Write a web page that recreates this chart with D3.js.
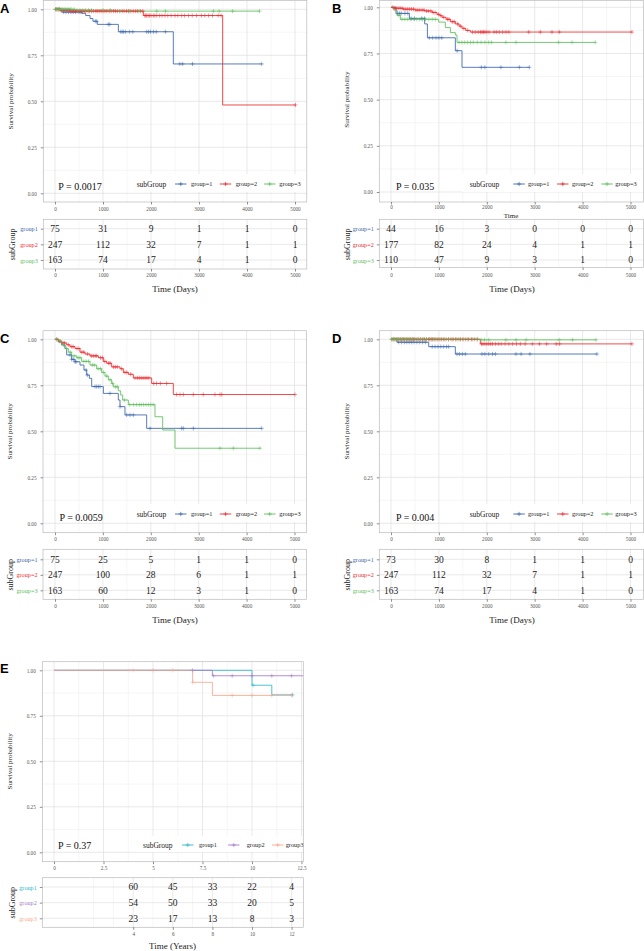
<!DOCTYPE html>
<html><head><meta charset="utf-8">
<script src="https://cdn.jsdelivr.net/npm/d3@7/dist/d3.min.js"></script>
<style>body{margin:0;background:#fff}</style>
</head><body>
<script>
// ---------------- DATA ----------------
const dayTicks = [0, 1000, 2000, 3000, 4000, 5000];
const dayMinor = [500, 1500, 2500, 3500, 4500];
const yearTicks = [0, 2.5, 5, 7.5, 10, 12.5];
const yearMinor = [1.25, 3.75, 6.25, 8.75, 11.25];
const yearTableTicks = [4, 6, 8, 10, 12];
const yearTableMinor = [2, 3, 5, 7, 9, 11];
const survTicks = [0, 0.25, 0.5, 0.75, 1];
const survMinor = [0.125, 0.375, 0.625, 0.875];
const survTickLabels = ["0.00", "0.25", "0.50", "0.75", "1.00"];

const legendLabelsEq = ["group=1", "group=2", "group=3"];
const legendLabelsPlain = ["group1", "group2", "group3"];
const pValues = ["P = 0.0017", "P = 0.035", "P = 0.0059", "P = 0.004", "P = 0.37"];

// Panel A  (time in days, [time, survival])
const A_g1 = [[0,1],[140,0.985],[560,0.978],[640,0.966],[730,0.95],[790,0.935],[880,0.918],[1320,0.878],[2465,0.703],[4306,0.703]];
const A_g2 = [[0,1],[120,0.995],[330,0.99],[1840,0.966],[3493,0.48],[5010,0.48]];
const A_g3 = [[0,1],[420,0.995],[1250,0.99],[4260,0.99]];
const A_g1_cens = [180,230,280,330,380,430,500,540,840,870,1110,1140,1370,1400,1430,1470,1550,1620,1910,1950,1990,2050,2110,2300,2600,2660,2865,4306];
const A_g2_cens = [15,40,70,95,120,150,180,210,245,270,300,330,360,395,420,450,480,515,545,580,610,640,690,720,760,800,850,880,920,960,1000,1040,1080,1130,1170,1220,1260,1300,1350,1400,1440,1490,1530,1580,1630,1680,1720,1780,1830,1870,1890,1910,1940,1970,2000,2050,2080,2120,2180,2230,2290,2350,2420,2500,2560,2640,2700,2780,2860,2950,3050,3120,3200,3280,3400,3460,5010];
const A_g3_cens = [10,30,55,80,105,135,160,190,215,250,280,320,350,400,460,520,580,640,700,760,1000,1150,1350,1550,1750,2120,2300,3300,3420,3700,4260];
const A_risk1 = [75, 31, 9, 1, 1, 0];
const A_risk2 = [247, 112, 32, 7, 1, 1];
const A_risk3 = [163, 74, 17, 4, 1, 0];

// Panel B
const B_g1 = [[0,1],[104,0.967],[383,0.94],[703,0.91],[760,0.835],[1343,0.765],[1482,0.675],[2887,0.675]];
const B_g2 = [[0,1],[60,0.995],[250,0.99],[500,0.985],[700,0.98],[860,0.972],[960,0.962],[1020,0.955],[1065,0.946],[1150,0.935],[1240,0.922],[1343,0.91],[1420,0.898],[1482,0.886],[1560,0.875],[1656,0.866],[5030,0.866]];
const B_g3 = [[0,1],[56,0.985],[125,0.957],[195,0.935],[995,0.92],[1134,0.89],[1239,0.863],[1343,0.85],[1378,0.81],[4265,0.81]];
const B_g1_cens = [143,180,213,290,350,420,490,640,700,800,870,940,1000,1060,1380,1886,1960,2295,2680,2887];
const B_g2_cens = [40,80,110,150,190,230,270,310,350,390,430,470,520,560,600,650,690,740,780,830,880,920,990,1040,1100,1180,1210,1280,1320,1390,1450,1520,1600,1700,1760,1820,1870,1900,1930,1960,2000,2050,2150,2200,2260,2330,2400,2460,2874,3117,3361,3514,5030];
const B_g3_cens = [160,230,290,350,420,480,540,600,660,720,790,860,925,1420,1480,1540,1600,1660,1720,1800,1880,1960,2040,2100,2400,2610,3500,3780,4265];
const B_risk1 = [44, 16, 3, 0, 0, 0];
const B_risk2 = [177, 82, 24, 4, 1, 1];
const B_risk3 = [110, 47, 9, 3, 1, 0];

// Panel C
const C_g1 = [[0,1],[70,0.985],[139,0.969],[209,0.951],[244,0.915],[348,0.891],[418,0.878],[522,0.86],[605,0.833],[661,0.806],[717,0.788],[766,0.743],[1009,0.706],[1322,0.67],[1357,0.634],[1461,0.589],[1914,0.516],[4315,0.516]];
const C_g2 = [[0,1],[70,0.99],[139,0.98],[244,0.97],[313,0.96],[418,0.95],[522,0.93],[626,0.92],[731,0.91],[905,0.9],[1009,0.88],[1079,0.87],[1183,0.85],[1357,0.84],[1426,0.82],[1531,0.81],[1635,0.79],[2018,0.76],[2470,0.7],[5010,0.7]];
const C_g3 = [[0,1],[70,0.99],[139,0.97],[209,0.95],[278,0.93],[348,0.91],[453,0.9],[557,0.88],[731,0.86],[870,0.84],[974,0.82],[1044,0.8],[1114,0.78],[1183,0.76],[1218,0.742],[1322,0.72],[1371,0.697],[1413,0.67],[1531,0.645],[2088,0.579],[2248,0.507],[2505,0.408],[4280,0.408]];
const C_g1_cens = [313,348,383,418,439,647,675,835,870,905,940,1148,1357,1496,1566,1635,1984,2644,2679,2888,4315];
const C_g2_cens = [40,100,170,200,280,350,380,460,500,560,600,680,760,800,840,870,950,990,1040,1120,1150,1220,1260,1300,1390,1460,1500,1580,1670,1720,1760,1800,1840,1880,1920,1960,2060,2120,2200,2330,2540,2610,2679,2888,3097,3340,3445,3480,5010];
const C_g3_cens = [30,110,180,240,320,400,480,520,600,650,700,780,820,900,950,1010,1080,1150,1200,1260,1300,1450,1560,1640,1700,1760,1800,1850,1900,1950,2000,2050,3445,3723,4280];
const C_risk1 = [75, 25, 5, 1, 1, 0];
const C_risk2 = [247, 100, 28, 6, 1, 1];
const C_risk3 = [163, 60, 12, 3, 1, 0];

// Panel D
const D_g1 = [[0,1],[125,0.984],[787,0.96],[1343,0.92],[4300,0.92]];
const D_g2 = [[0,1],[1865,0.975],[5030,0.975]];
const D_g3 = [[0,1],[1865,0.997],[4280,0.997]];
const D_g1_cens = [160,220,280,330,380,430,480,540,600,660,720,860,920,980,1040,1100,1160,1204,1378,1430,1490,1552,1900,1960,2040,2120,2180,2610,2715,2900,4300];
const D_g2_cens = [20,50,80,110,140,170,200,230,260,290,320,350,380,410,440,470,500,540,580,620,660,700,740,780,810,840,870,900,940,980,1020,1060,1100,1150,1200,1250,1300,1350,1400,1450,1500,1560,1620,1680,1740,1800,1890,1920,1960,2000,2040,2080,2120,2180,2240,2300,2380,2460,2540,2620,2700,2800,2950,3100,3250,3450,3520,5030];
const D_g3_cens = [10,40,70,100,130,160,200,240,280,320,360,400,450,500,560,620,680,740,800,860,920,980,1050,1120,1200,1280,1360,1440,1520,1600,1700,1800,1880,1950,2040,2400,2610,2820,3510,3790,4280];
const D_risk1 = [73, 30, 8, 1, 1, 0];
const D_risk2 = [247, 112, 32, 7, 1, 1];
const D_risk3 = [163, 74, 17, 4, 1, 0];

// Panel E (time in years)
const E_g1 = [[0,1],[10.0,0.918],[11.0,0.865],[12.05,0.865]];
const E_g2 = [[0,1],[8.0,0.97],[12.6,0.97]];
const E_g3 = [[0,1],[7.0,0.934],[8.0,0.862],[12.05,0.862]];
const E_g1_cens = [10.05, 12.05];
const E_g2_cens = [7.0, 8.05, 9.0, 10.0, 11.0, 12.0];
const E_g3_cens = [4.0, 5.0, 6.0, 7.0, 9.0, 10.0, 11.0, 12.0];
const E_risk1 = [60, 45, 33, 22, 4];
const E_risk2 = [54, 50, 33, 20, 5];
const E_risk3 = [23, 17, 13, 8, 3];

const colorsSet = ["#3A66AD", "#EE2A2E", "#5CBE5B"];
const colorsE = ["#2BB8CB", "#A67CCB", "#F7A98D"];

// ---------------- DRAWING ----------------
const SERIF = "'Liberation Serif', 'Times New Roman', serif";
const SANS = "'Liberation Sans', Arial, sans-serif";
const GRID_MAJ = "#E0E0E0", GRID_MIN = "#EDEDED", BORDER = "#BBBBBB", TICK = "#444", TXT = "#555";

const svg = d3.select("body").append("svg").attr("width", 644).attr("height", 951)
  .style("display", "block");
svg.append("rect").attr("width", 644).attr("height", 951).attr("fill", "#fff");

function survAt(steps, t) {
  let s = steps[0][1];
  for (const st of steps) if (st[0] <= t) s = st[1];
  return s;
}

let clipId = 0;
function drawPanel(p) {
  const g = svg.append("g");
  const P = p.plot, T = p.table;
  const x = d3.scaleLinear().domain(p.xDomain).range(p.xRange);
  const y = d3.scaleLinear().domain([0, 1]).range(p.yRange);

  // ---- plot panel gridlines
  const gl = g.append("g");
  gl.selectAll(".vmin").data(p.xMinor).join("line")
    .attr("x1", d => x(d)).attr("x2", d => x(d)).attr("y1", P.top).attr("y2", P.bottom)
    .attr("stroke", GRID_MIN).attr("stroke-width", 0.5);
  gl.selectAll(".hmin").data(survMinor).join("line")
    .attr("x1", P.left).attr("x2", P.right).attr("y1", d => y(d)).attr("y2", d => y(d))
    .attr("stroke", GRID_MIN).attr("stroke-width", 0.5);
  gl.selectAll(".vmaj").data(p.xTicks).join("line")
    .attr("x1", d => x(d)).attr("x2", d => x(d)).attr("y1", P.top).attr("y2", P.bottom)
    .attr("stroke", GRID_MAJ).attr("stroke-width", 0.7);
  gl.selectAll(".hmaj").data(survTicks).join("line")
    .attr("x1", P.left).attr("x2", P.right).attr("y1", d => y(d)).attr("y2", d => y(d))
    .attr("stroke", GRID_MAJ).attr("stroke-width", 0.7);

  // ---- curves
  const cid = "clip" + (clipId++);
  g.append("clipPath").attr("id", cid).append("rect")
    .attr("x", P.left).attr("y", P.top).attr("width", P.right - P.left).attr("height", P.bottom - P.top);
  const cg = g.append("g").attr("clip-path", `url(#${cid})`);
  const line = d3.line().x(d => x(d[0])).y(d => y(d[1])).curve(d3.curveStepAfter);
  p.curves.forEach((c, i) => {
    cg.append("path").attr("d", line(c)).attr("fill", "none")
      .attr("stroke", p.colors[i]).attr("stroke-width", 0.85);
  });
  p.curves.forEach((c, i) => {
    cg.selectAll(null).data(p.cens[i]).join("path")
      .attr("d", d => {
        const cx = x(d), cy = y(survAt(c, d));
        return `M${cx - 2.1},${cy}H${cx + 2.1}M${cx},${cy - 2.1}V${cy + 2.1}`;
      })
      .attr("stroke", p.colors[i]).attr("stroke-width", 0.6).attr("fill", "none").attr("opacity", 0.85);
  });

  // ---- legend (inside panel, white box)
  const L = p.legend;
  g.append("rect").attr("x", L.box[0]).attr("y", L.box[1]).attr("width", L.box[2]).attr("height", L.box[3])
    .attr("fill", "#fff");
  g.append("text").attr("x", L.titleX).attr("y", L.y).attr("dy", "0.35em")
    .attr("font-family", SERIF).attr("font-size", 7.5).attr("fill", "#222").text("subGroup");
  L.keyX.forEach((kx, i) => {
    g.append("line").attr("x1", kx).attr("x2", kx + 11.5).attr("y1", L.y).attr("y2", L.y)
      .attr("stroke", p.colors[i]).attr("stroke-width", 0.9);
    g.append("path").attr("d", `M${kx + 3.6},${L.y}H${kx + 7.9}M${kx + 5.75},${L.y - 2.1}V${L.y + 2.1}`)
      .attr("stroke", p.colors[i]).attr("stroke-width", 0.7);
    g.append("text").attr("x", L.labelX[i]).attr("y", L.y).attr("dy", "0.35em")
      .attr("font-family", SERIF).attr("font-size", 6.3).attr("fill", "#222").text(p.legendLabels[i]);
  });

  // p-value
  g.append("text").attr("x", p.pPos[0]).attr("y", p.pPos[1]).attr("dy", "0.35em")
    .attr("font-family", SERIF).attr("font-size", 10).attr("fill", "#111").text(p.pText);

  // border
  g.append("rect").attr("x", P.left).attr("y", P.top).attr("width", P.right - P.left).attr("height", P.bottom - P.top)
    .attr("fill", "none").attr("stroke", BORDER).attr("stroke-width", 0.7);

  // ---- axes of plot
  const xa = g.append("g").attr("transform", `translate(0,${P.bottom})`)
    .call(d3.axisBottom(x).tickValues(p.xTicks).tickSize(2.5).tickFormat(d => p.xTickFmt(d)));
  xa.select(".domain").remove();
  xa.selectAll("line").attr("stroke", TICK).attr("stroke-width", 0.6);
  xa.selectAll("text").attr("y", p.xLabY - P.bottom).attr("dy", "0.35em")
    .attr("font-family", SERIF).attr("font-size", 5.2).attr("fill", TXT);

  const ya = g.append("g").attr("transform", `translate(${P.left},0)`)
    .call(d3.axisLeft(y).tickValues(survTicks).tickSize(2.5).tickFormat((d, i) => survTickLabels[i]));
  ya.select(".domain").remove();
  ya.selectAll("line").attr("stroke", TICK).attr("stroke-width", 0.6);
  ya.selectAll("text").attr("x", -6.5).attr("dy", "0.35em")
    .attr("font-family", SERIF).attr("font-size", 5.2).attr("fill", TXT);

  g.append("text").attr("transform", `translate(${p.yTitleX},${(p.yRange[0] + p.yRange[1]) / 2}) rotate(-90)`)
    .attr("text-anchor", "middle").attr("dy", "0.35em")
    .attr("font-family", SERIF).attr("font-size", 7).attr("fill", "#222").text("Survival probability");

  if (p.xTitle) {
    g.append("text").attr("x", p.xTitle.x).attr("y", p.xTitle.y).attr("dy", "0.35em").attr("text-anchor", "middle")
      .attr("font-family", SERIF).attr("font-size", 7).attr("fill", "#222").text(p.xTitle.text);
  }

  // ---- risk table
  const ry = d3.scalePoint().domain([0, 1, 2]).range([T.rows[0], T.rows[2]]);
  const tg = g.append("g");
  tg.selectAll(".tvmin").data(p.tMinor).join("line")
    .attr("x1", d => x(d)).attr("x2", d => x(d)).attr("y1", T.top).attr("y2", T.bottom)
    .attr("stroke", GRID_MIN).attr("stroke-width", 0.5);
  tg.selectAll(".tvmaj").data(p.tTicks).join("line")
    .attr("x1", d => x(d)).attr("x2", d => x(d)).attr("y1", T.top).attr("y2", T.bottom)
    .attr("stroke", GRID_MAJ).attr("stroke-width", 0.7);
  tg.selectAll(".thmaj").data([0, 1, 2]).join("line")
    .attr("x1", P.left).attr("x2", P.right).attr("y1", d => ry(d)).attr("y2", d => ry(d))
    .attr("stroke", GRID_MAJ).attr("stroke-width", 0.7);
  tg.append("rect").attr("x", P.left).attr("y", T.top).attr("width", P.right - P.left).attr("height", T.bottom - T.top)
    .attr("fill", "none").attr("stroke", BORDER).attr("stroke-width", 0.7);

  p.risk.forEach((row, i) => {
    tg.selectAll(null).data(row).join("text")
      .attr("x", (d, j) => x(p.tTicks[j])).attr("y", ry(i)).attr("dy", "0.35em")
      .attr("text-anchor", "middle").attr("font-family", SERIF).attr("font-size", 9.5).attr("fill", "#1a1a1a")
      .text(d => d);
  });

  const tya = tg.append("g").attr("transform", `translate(${P.left},0)`)
    .call(d3.axisLeft(ry).tickSize(2.5).tickFormat(i => p.tableLabels[i]));
  tya.select(".domain").remove();
  tya.selectAll("line").attr("stroke", TICK).attr("stroke-width", 0.6);
  tya.selectAll("text").attr("x", -5.5).attr("dy", "0.35em")
    .attr("font-family", SERIF).attr("font-size", 6.2).attr("fill", (i) => p.colors[i]);

  const txa = tg.append("g").attr("transform", `translate(0,${T.bottom})`)
    .call(d3.axisBottom(x).tickValues(p.tTicks).tickSize(2.5).tickFormat(d => p.xTickFmt(d)));
  txa.select(".domain").remove();
  txa.selectAll("line").attr("stroke", TICK).attr("stroke-width", 0.6);
  txa.selectAll("text").attr("y", p.tLabY - T.bottom).attr("dy", "0.35em")
    .attr("font-family", SERIF).attr("font-size", 5.2).attr("fill", TXT);

  tg.append("text").attr("transform", `translate(${p.tYTitleX},${(T.rows[0] + T.rows[2]) / 2}) rotate(-90)`)
    .attr("text-anchor", "middle").attr("dy", "0.35em")
    .attr("font-family", SERIF).attr("font-size", 8).attr("fill", "#222").text("subGroup");
  tg.append("text").attr("x", p.tTitle.x).attr("y", p.tTitle.y).attr("dy", "0.35em").attr("text-anchor", "middle")
    .attr("font-family", SERIF).attr("font-size", 9).attr("fill", "#222").text(p.tTitle.text);

  // panel letter
  svg.append("text").attr("x", p.letter[0]).attr("y", p.letter[1])
    .attr("font-family", SANS).attr("font-weight", "bold").attr("font-size", 13).attr("fill", "#000").text(p.letter[2]);
}

const dayFmt = d => String(d);
const yearFmt = d => String(d);

drawPanel({
  letter: [0, 12.7, "A"],
  plot: {left: 43.3, right: 306.8, top: 0.5, bottom: 202},
  xDomain: [0, 5000], xRange: [55, 295], yRange: [193.3, 9.3],
  xTicks: dayTicks, xMinor: dayMinor, xTickFmt: dayFmt, xLabY: 209,
  curves: [A_g1, A_g2, A_g3], cens: [A_g1_cens, A_g2_cens, A_g3_cens], colors: colorsSet,
  legend: {y: 184, titleX: 136.7, keyX: [175, 219.8, 264], labelX: [191, 235.7, 279.3], box: [128, 174, 178, 18]},
  legendLabels: legendLabelsEq, pText: pValues[0], pPos: [58.3, 186.7],
  yTitleX: 11,
  table: {top: 219.3, bottom: 269, rows: [228.7, 244.3, 260]},
  tTicks: dayTicks, tMinor: dayMinor, tLabY: 275, risk: [A_risk1, A_risk2, A_risk3],
  tableLabels: legendLabelsPlain, tYTitleX: 12, tTitle: {x: 175, y: 289, text: "Time (Days)"}
});

drawPanel({
  letter: [332, 12.7, "B"],
  plot: {left: 379.3, right: 643.5, top: 0.5, bottom: 202},
  xDomain: [0, 5000], xRange: [391, 630.5], yRange: [192, 7.3],
  xTicks: dayTicks, xMinor: dayMinor, xTickFmt: dayFmt, xLabY: 206.7,
  xTitle: {x: 511, y: 215.7, text: "Time"},
  curves: [B_g1, B_g2, B_g3], cens: [B_g1_cens, B_g2_cens, B_g3_cens], colors: colorsSet,
  legend: {y: 184, titleX: 469.7, keyX: [513.3, 557, 601.3], labelX: [528, 572, 615.3], box: [462, 174, 181, 18]},
  legendLabels: legendLabelsEq, pText: pValues[1], pPos: [396, 186.7],
  yTitleX: 347,
  table: {top: 219.3, bottom: 267.5, rows: [228.7, 244.3, 260]},
  tTicks: dayTicks, tMinor: dayMinor, tLabY: 275.3, risk: [B_risk1, B_risk2, B_risk3],
  tableLabels: legendLabelsEq, tYTitleX: 347, tTitle: {x: 512, y: 289, text: "Time (Days)"}
});

drawPanel({
  letter: [0, 343.3, "C"],
  plot: {left: 43, right: 306.5, top: 330.7, bottom: 532.7},
  xDomain: [0, 5000], xRange: [55, 294.5], yRange: [523.3, 339.3],
  xTicks: dayTicks, xMinor: dayMinor, xTickFmt: dayFmt, xLabY: 539.3,
  curves: [C_g1, C_g2, C_g3], cens: [C_g1_cens, C_g2_cens, C_g3_cens], colors: colorsSet,
  legend: {y: 514, titleX: 136.7, keyX: [175, 219.8, 264], labelX: [191, 235.7, 279.3], box: [128, 504, 178, 18]},
  legendLabels: legendLabelsEq, pText: pValues[2], pPos: [59.5, 517.3],
  yTitleX: 10,
  table: {top: 549.3, bottom: 599.3, rows: [559.3, 575, 590.3]},
  tTicks: dayTicks, tMinor: dayMinor, tLabY: 606, risk: [C_risk1, C_risk2, C_risk3],
  tableLabels: legendLabelsEq, tYTitleX: 10, tTitle: {x: 175, y: 619.6, text: "Time (Days)"}
});

drawPanel({
  letter: [332, 342.7, "D"],
  plot: {left: 379.3, right: 643.5, top: 330.7, bottom: 532.7},
  xDomain: [0, 5000], xRange: [391, 630.5], yRange: [523.3, 339.3],
  xTicks: dayTicks, xMinor: dayMinor, xTickFmt: dayFmt, xLabY: 539.3,
  curves: [D_g1, D_g2, D_g3], cens: [D_g1_cens, D_g2_cens, D_g3_cens], colors: colorsSet,
  legend: {y: 514, titleX: 469.7, keyX: [513.3, 557, 601.3], labelX: [528, 572, 615.3], box: [462, 504, 181, 18]},
  legendLabels: legendLabelsEq, pText: pValues[3], pPos: [396, 517.3],
  yTitleX: 347,
  table: {top: 549.3, bottom: 599.3, rows: [559.3, 575, 590.3]},
  tTicks: dayTicks, tMinor: dayMinor, tLabY: 606, risk: [D_risk1, D_risk2, D_risk3],
  tableLabels: legendLabelsEq, tYTitleX: 347, tTitle: {x: 512, y: 619.6, text: "Time (Days)"}
});

drawPanel({
  letter: [0, 672.7, "E"],
  plot: {left: 42.3, right: 303.3, top: 661.7, bottom: 861.7},
  xDomain: [0, 12.5], xRange: [54, 301.5], yRange: [852.3, 670.3],
  xTicks: yearTicks, xMinor: yearMinor, xTickFmt: yearFmt, xLabY: 868.3,
  curves: [E_g1, E_g2, E_g3], cens: [E_g1_cens, E_g2_cens, E_g3_cens], colors: colorsE,
  legend: {y: 845, titleX: 143, keyX: [182, 228, 272], labelX: [199, 246.7, 285.7], box: [136, 836, 167, 16]},
  legendLabels: legendLabelsPlain, pText: pValues[4], pPos: [58, 845],
  yTitleX: 10,
  table: {top: 877.7, bottom: 927.3, rows: [887, 902.3, 918.3]},
  tTicks: yearTableTicks, tMinor: yearTableMinor, tLabY: 934, risk: [E_risk1, E_risk2, E_risk3],
  tableLabels: legendLabelsPlain, tYTitleX: 12, tTitle: {x: 172.5, y: 945.7, text: "Time (Years)"}
});
</script>
</body></html>
